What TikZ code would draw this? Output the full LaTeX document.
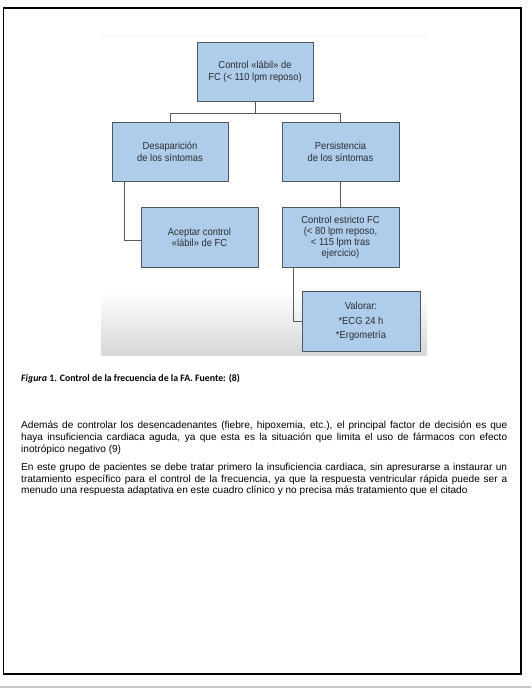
\documentclass[tikz,border=0pt]{standalone}
\usepackage{fontspec}
\usetikzlibrary{calc}
\setmainfont{Liberation Sans}
\newfontfamily\boxfont[FakeStretch=0.92]{Liberation Sans}
\newfontfamily\capfont{Carlito}
\definecolor{boxblue}{HTML}{AFCDEA}
\definecolor{boxedge}{HTML}{4E5860}
\definecolor{boxtext}{HTML}{2A2E32}
\definecolor{linegray}{HTML}{5A5A5A}
\tikzset{
  fcbox/.style={draw=boxedge, line width=0.9pt, fill=boxblue, minimum width=116pt, minimum height=59pt,
    align=center, font=\boxfont\fontsize{10.2}{11.7}\selectfont, text=boxtext, inner sep=2pt},
  conn/.style={draw=linegray, line width=0.9pt},
  para/.style={anchor=north west, text width=486pt, align=justify, inner sep=0pt,
    font=\fontsize{10.1}{11.7}\selectfont, text=black}
}
\begin{document}
\begin{tikzpicture}[x=1pt,y=-1pt]
\useasboundingbox (0,0) rectangle (531,688);
\fill[white] (0,0) rectangle (531,688);
% outer frame
\draw[line width=1.3pt] (3.5,8) rectangle (521,674);
\draw[black!22, line width=1.5pt] (0,687) -- (531,687);
% picture background gradient
\shade[top color=white, bottom color=black!16] (101,292) rectangle (427,355.5);
\draw[black!4, line width=0.6pt] (101,35) -- (427,35);
% boxes
\node[fcbox] (top) at (255,71.5) {Control «lábil» de\\FC (< 110 lpm reposo)};
\node[fcbox] (des) at (170,152) {Desaparición\\de los síntomas};
\node[fcbox, minimum width=117pt] (per) at (340.5,152) {Persistencia\\de los síntomas};
\node[fcbox, minimum width=117pt, minimum height=60pt] (acep) at (199.5,237.5) {Aceptar control\\«lábil» de FC};
\node[fcbox, minimum width=117pt, minimum height=60pt, font=\boxfont\fontsize{10.2}{11}\selectfont] (estr) at (340.5,237.5) {Control estricto FC\\(< 80 lpm reposo,\\< 115 lpm tras\\ejercicio)};
\node[fcbox, minimum width=118pt, minimum height=60pt, font=\boxfont\fontsize{10.2}{14.6}\selectfont] (val) at (361,321.5) {Valorar:\\*ECG 24 h\\*Ergometría};
% connectors
\coordinate (split) at ($(top.south)+(0,12)$);
\draw[conn] (top.south) -- (split);
\draw[conn] (split) -| (des.north);
\draw[conn] (split) -| (per.north);
\draw[conn] ([xshift=13.3pt]des.south west) |- ([yshift=-2.5pt]acep.west);
\draw[conn] (per.south) -- (estr.north);
\draw[conn] ([xshift=12pt]estr.south west) |- (val.west);
% caption
\node[anchor=base west, inner sep=0pt, font=\capfont\bfseries\fontsize{9.8}{11}\selectfont] (cap) at (21,381)
  {\itshape Figura\upshape{} 1. Control de la frecuencia de la FA. Fuente: (8)};
% paragraphs
\node[para] (p1) at (21,421) {Además de controlar los desencadenantes (fiebre, hipoxemia, etc.), el principal factor de decisión es que\linebreak
haya insuficiencia cardiaca aguda, ya que esta es la situación que limita el uso de fármacos con efecto\linebreak
inotrópico negativo (9)};
\node[para] (p2) at (21,463) {En este grupo de pacientes se debe tratar primero la insuficiencia cardiaca, sin apresurarse a instaurar un\linebreak
tratamiento específico para el control de la frecuencia, ya que la respuesta ventricular rápida puede ser a\linebreak
menudo una respuesta adaptativa en este cuadro clínico y no precisa más tratamiento que el citado};
\end{tikzpicture}
\end{document}
